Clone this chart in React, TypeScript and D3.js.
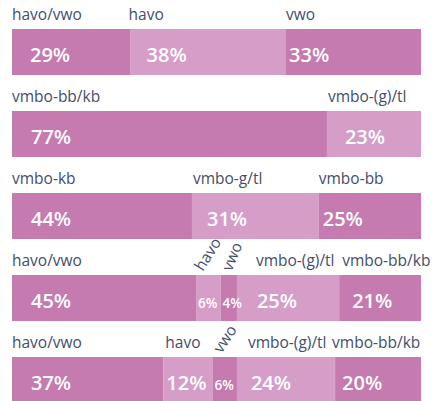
import React, { useEffect, useRef } from 'react';
import * as d3 from 'd3';

// one row per bar, segments left to right
const rowLabels = [
  ['havo/vwo', 'havo', 'vwo'],
  ['vmbo-bb/kb', 'vmbo-(g)/tl'],
  ['vmbo-kb', 'vmbo-g/tl', 'vmbo-bb'],
  ['havo/vwo', 'havo', 'vwo', 'vmbo-(g)/tl', 'vmbo-bb/kb'],
  ['havo/vwo', 'havo', 'vwo', 'vmbo-(g)/tl', 'vmbo-bb/kb'],
];
const rowValues = [
  [29, 38, 33],
  [77, 23],
  [44, 31, 25],
  [45, 6, 4, 25, 21],
  [37, 12, 6, 24, 20],
];

// layout tweaks for the labels (nudges, rotation)
const labelDx = [
  [0, -2, 0],
  [0, 1],
  [0, 1, 0],
  [0, 7, 11, 19, 3],
  [0, 2, 9, 11, -3],
];
const labelRotate = [
  [0, 0, 0],
  [0, 0],
  [0, 0, 0],
  [0, -58, -68, 0, 0],
  [0, 0, -57, 0, 0],
];
const pctDx = [
  [18, 16, 3],
  [19, 18],
  [19, 15, 4],
  [19, 2, 2, 20, 13],
  [19, 3, 2, 14, 7],
];

const DARK = '#c57ab0';
const LIGHT = '#d59dc8';
const TEXT = '#434e6c';

export default function App() {
  const ref = useRef<SVGSVGElement>(null);

  useEffect(() => {
    const svg = d3.select(ref.current);
    svg.selectAll('*').remove();

    const x = d3.scaleLinear().domain([0, 100]).range([12, 421]);
    const y = d3.scaleLinear().domain([0, 1]).range([29, 111]);
    const barH = 46;

    rowValues.forEach((vals, r) => {
      const g = svg.append('g');
      let cum = 0;
      const segs = vals.map((v, i) => {
        const start = cum;
        cum += v;
        const end = i === vals.length - 1 ? 100 : cum;
        return { v, i, start, end, label: rowLabels[r][i] };
      });

      g.selectAll('rect')
        .data(segs)
        .enter()
        .append('rect')
        .attr('x', d => x(d.start))
        .attr('y', y(r))
        .attr('width', d => x(d.end) - x(d.start))
        .attr('height', barH)
        .attr('fill', d => (d.i % 2 === 0 ? DARK : LIGHT));

      g.selectAll('text.pct')
        .data(segs)
        .enter()
        .append('text')
        .attr('class', 'pct')
        .attr('x', d => x(d.start) + pctDx[r][d.i])
        .attr('y', y(r) + 33)
        .attr('fill', '#ffffff')
        .attr('font-family', '"Open Sans", sans-serif')
        .attr('font-weight', 600)
        .attr('font-size', d => (d.v < 10 ? 13.5 : 20))
        .text(d => d.v + '%');

      g.selectAll('text.lbl')
        .data(segs)
        .enter()
        .append('text')
        .attr('class', 'lbl')
        .attr('transform', d => {
          const rot = labelRotate[r][d.i];
          const lx = x(d.start) + labelDx[r][d.i];
          const ly = rot ? y(r) - 3 : y(r) - 9;
          return `translate(${lx},${ly}) rotate(${rot})`;
        })
        .attr('fill', TEXT)
        .attr('font-family', '"Open Sans", sans-serif')
        .attr('font-size', 15.5)
        .text(d => d.label);
    });
  }, []);

  return (
    <div style={{ position: 'absolute', left: 0, top: 0 }}>
      <svg ref={ref} width={433} height={401} style={{ display: 'block', background: '#ffffff' }} />
    </div>
  );
}
